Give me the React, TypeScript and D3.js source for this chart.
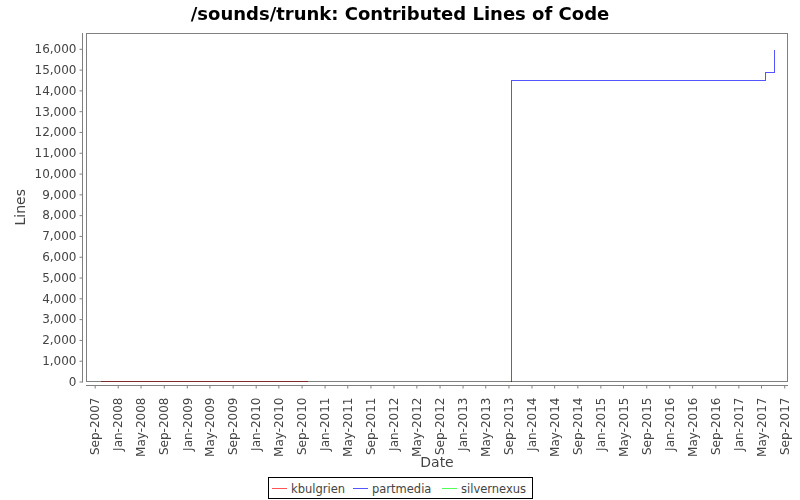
import React, { useRef, useEffect } from "react";
import * as d3 from "d3";

interface Point {
  date: Date;
  value: number;
}

const authors = ["kbulgrien", "partmedia", "silvernexus"];
const colors = ["#ff5555", "#5555ff", "#55ff55"];

const kbulgrienDates = ["2007-09-27", "2010-09-28"];
const kbulgrienValues = [0, 0];

const partmediaDates = ["2013-09-14", "2013-09-15", "2017-05-22", "2017-07-10"];
const partmediaValues = [0, 14460, 14880, 15960];

const silvernexusDates = ["2010-09-28"];
const silvernexusValues = [0];

const toPoints = (dates: string[], values: number[]): Point[] =>
  dates.map((d, i) => ({ date: d3.timeParse("%Y-%m-%d")(d)!, value: values[i] }));

const series = [
  toPoints(kbulgrienDates, kbulgrienValues),
  toPoints(partmediaDates, partmediaValues),
  toPoints(silvernexusDates, silvernexusValues),
];

const App: React.FC = () => {
  const chartRef = useRef<SVGSVGElement | null>(null);

  useEffect(() => {
    if (!chartRef.current) return;
    const svg = d3.select(chartRef.current);
    svg.selectAll("*").remove();

    const font = "'DejaVu Sans', sans-serif";
    const plot = { left: 86, right: 788, top: 33, bottom: 381.5 };

    const xScale = d3
      .scaleTime()
      .domain([new Date(2007, 6, 17), new Date(2017, 8, 21)])
      .range([plot.left, plot.right]);

    const yScale = d3
      .scaleLinear()
      .domain([0, 16760])
      .range([plot.bottom, plot.top]);

    svg
      .append("rect")
      .attr("width", 800)
      .attr("height", 500)
      .attr("fill", "#ffffff");

    // title
    svg
      .append("text")
      .attr("x", 400)
      .attr("y", 20)
      .attr("text-anchor", "middle")
      .attr("font-family", font)
      .attr("font-weight", "bold")
      .attr("font-size", 18)
      .text("/sounds/trunk: Contributed Lines of Code");

    // plot frame
    svg
      .append("rect")
      .attr("x", plot.left + 0.5)
      .attr("y", plot.top + 0.5)
      .attr("width", plot.right - plot.left - 1)
      .attr("height", plot.bottom - plot.top - 0.5)
      .attr("fill", "#ffffff")
      .attr("stroke", "#808080");

    // y axis
    const yAxis = svg
      .append("g")
      .attr("transform", `translate(82.5,0)`)
      .call(
        d3
          .axisLeft(yScale)
          .tickValues(d3.range(0, 16001, 1000))
          .tickFormat(d3.format(","))
          .tickSize(3)
          .tickPadding(3)
          .tickSizeOuter(0)
      );
    yAxis.select(".domain").attr("stroke", "#808080").attr("d", `M0,${plot.top}V${plot.bottom + 1}`);
    yAxis.selectAll(".tick line").attr("stroke", "#808080");
    yAxis
      .selectAll("text")
      .attr("font-family", font)
      .attr("font-size", 12)
      .attr("fill", "#444444");

    // x axis
    const xAxis = svg
      .append("g")
      .attr("transform", `translate(0,385.5)`)
      .call(
        d3
          .axisBottom(xScale)
          .ticks(d3.timeMonth.every(4))
          .tickFormat((d) => d3.timeFormat("%b-%Y")(d as Date))
          .tickSize(3)
          .tickSizeOuter(0)
      );
    xAxis.select(".domain").attr("stroke", "#808080").attr("d", `M${plot.left},0H${plot.right}`);
    xAxis.selectAll(".tick line").attr("stroke", "#808080");
    xAxis
      .selectAll("text")
      .attr("font-family", font)
      .attr("font-size", 12)
      .attr("fill", "#444444")
      .attr("transform", "rotate(-90)")
      .attr("text-anchor", "end")
      .attr("x", -12)
      .attr("y", 0)
      .attr("dy", "0.35em");

    // axis labels
    svg
      .append("text")
      .attr("transform", `translate(25,${(plot.top + plot.bottom) / 2}) rotate(-90)`)
      .attr("text-anchor", "middle")
      .attr("font-family", font)
      .attr("font-size", 14)
      .attr("fill", "#444444")
      .text("Lines");

    svg
      .append("text")
      .attr("x", (plot.left + plot.right) / 2)
      .attr("y", 467)
      .attr("text-anchor", "middle")
      .attr("font-family", font)
      .attr("font-size", 14)
      .attr("fill", "#444444")
      .text("Date");

    // lines
    const line = d3
      .line<Point>()
      .x((d) => Math.round(xScale(d.date)) + 0.5)
      .y((d) => Math.floor(yScale(d.value)) + 0.5)
      .curve(d3.curveStepAfter);

    series.forEach((data, i) => {
      if (data.length < 2) return;
      svg
        .append("path")
        .datum(data)
        .attr("fill", "none")
        .attr("stroke", colors[i])
        .attr("stroke-width", 1)
        .attr("shape-rendering", "crispEdges")
        .style("mix-blend-mode", "multiply")
        .attr("d", line);
    });

    // legend
    const legend = svg.append("g");
    legend
      .append("rect")
      .attr("x", 268.5)
      .attr("y", 477.5)
      .attr("width", 264)
      .attr("height", 21)
      .attr("fill", "#ffffff")
      .attr("stroke", "#000000");

    const itemX = [272, 353, 442];
    authors.forEach((name, i) => {
      legend
        .append("line")
        .attr("x1", itemX[i])
        .attr("x2", itemX[i] + 15)
        .attr("y1", 488.5)
        .attr("y2", 488.5)
        .attr("stroke", colors[i]);
      legend
        .append("text")
        .attr("x", itemX[i] + 19)
        .attr("y", 493)
        .attr("font-family", font)
        .attr("font-size", 11.5)
        .attr("fill", "#444444")
        .text(name);
    });
  }, []);

  return (
    <svg
      ref={chartRef}
      width={800}
      height={500}
      style={{ position: "absolute", left: 0, top: 0 }}
    ></svg>
  );
};

export default App;
